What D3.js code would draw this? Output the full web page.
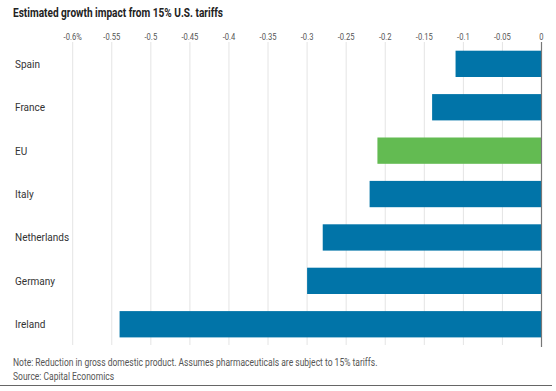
<!DOCTYPE html>
<head>
  <title>Growth impact</title>
</head>
<style>
html, body {
  margin: 0;
  padding: 0;
  background: #ffffff;
}
svg text {
  font-family: Roboto, "Liberation Sans", sans-serif;
}
.title {
  font-weight: bold;
  font-size: 12px;
  fill: #222222;
}
.tick-label {
  font-size: 9.5px;
  fill: #555555;
}
.cat-label {
  font-size: 11px;
  fill: #333333;
}
.note {
  font-size: 10px;
  fill: #555555;
}
</style>

<svg width="556" height="391"></svg>

<script src="https://d3js.org/d3.v7.min.js"></script>
<script>
// countries, top to bottom
var countries = ["Spain", "France", "EU", "Italy", "Netherlands", "Germany", "Ireland"];
// growth impact, percentage points
var impacts = [-0.11, -0.14, -0.21, -0.22, -0.28, -0.30, -0.54];
var tickValues = [-0.6, -0.55, -0.5, -0.45, -0.4, -0.35, -0.3, -0.25, -0.2, -0.15, -0.1, -0.05, 0];
var tickLabels = ["-0.6%", "-0.55", "-0.5", "-0.45", "-0.4", "-0.35", "-0.3", "-0.25", "-0.2", "-0.15", "-0.1", "-0.05", "0"];

var svg = d3.select("svg");

/**
 * The original uses a narrow face; squeeze the text horizontally to match.
 */
function condense(sel, factor) {
  sel.each(function() {
    var w = this.getComputedTextLength();
    d3.select(this)
      .attr("textLength", w * factor)
      .attr("lengthAdjust", "spacingAndGlyphs");
  });
}

var x = d3.scaleLinear()
          .domain([-0.6, 0])
          .range([72.7, 541.5]);

var y = d3.scaleBand()
          .domain(countries)
          .range([39.85, 348.25])
          .paddingInner(0.394)
          .paddingOuter(0.25);

svg.append("text")
  .attr("class", "title")
  .attr("x", 13)
  .attr("y", 17)
  .text("Estimated growth impact from 15% U.S. tariffs")
  .call(condense, 0.84);

// gridlines
svg.append("g")
  .selectAll("line")
  .data(tickValues.slice(0, -1))
  .enter().append("line")
    .attr("x1", function(d) { return x(d); })
    .attr("x2", function(d) { return x(d); })
    .attr("y1", 42)
    .attr("y2", 345)
    .attr("stroke", "#e4e4e4")
    .attr("stroke-width", 1);

// tick labels
svg.append("g")
  .selectAll("text")
  .data(tickValues)
  .enter().append("text")
    .attr("class", "tick-label")
    .attr("x", function(d) { return x(d); })
    .attr("y", 40)
    .attr("text-anchor", "middle")
    .text(function(d, i) { return tickLabels[i]; })
    .call(condense, 0.8);

// bars
svg.append("g")
  .selectAll("rect")
  .data(countries)
  .enter().append("rect")
    .attr("x", function(d, i) { return x(impacts[i]); })
    .attr("y", function(d) { return y(d); })
    .attr("width", function(d, i) { return x(0) - x(impacts[i]); })
    .attr("height", y.bandwidth())
    .attr("fill", function(d) { return d == "EU" ? "#63bb52" : "#0174a8"; });

// zero line
svg.append("line")
  .attr("x1", x(0))
  .attr("x2", x(0))
  .attr("y1", 42)
  .attr("y2", 347)
  .attr("stroke", "#777777")
  .attr("stroke-width", 1.2);

// country labels
svg.append("g")
  .selectAll("text")
  .data(countries)
  .enter().append("text")
    .attr("class", "cat-label")
    .attr("x", 15)
    .attr("y", function(d) { return y(d) + y.bandwidth() / 2; })
    .attr("dy", "0.35em")
    .text(function(d) { return d; })
    .call(condense, 0.91);

svg.append("text")
  .attr("class", "note")
  .attr("x", 13)
  .attr("y", 366)
  .text("Note: Reduction in gross domestic product. Assumes pharmaceuticals are subject to 15% tariffs.")
  .call(condense, 0.85);

svg.append("text")
  .attr("class", "note")
  .attr("x", 13)
  .attr("y", 380)
  .text("Source: Capital Economics")
  .call(condense, 0.85);

svg.append("line")
  .attr("x1", 0)
  .attr("x2", 552)
  .attr("y1", 385.5)
  .attr("y2", 385.5)
  .attr("stroke", "#666666")
  .attr("stroke-width", 1);
</script>
